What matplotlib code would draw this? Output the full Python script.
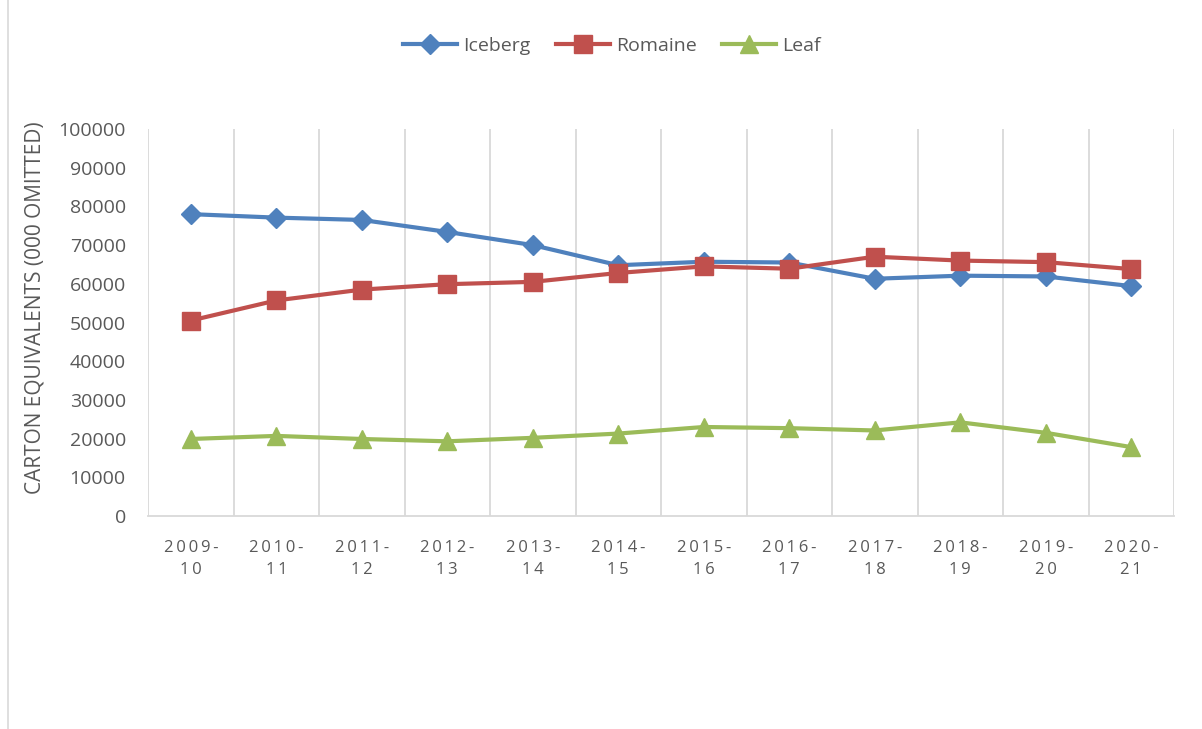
import matplotlib.pyplot as plt
from matplotlib.lines import Line2D
import numpy as np

# seasons on the x axis
seasons = ['2009-\n10', '2010-\n11', '2011-\n12', '2012-\n13', '2013-\n14', '2014-\n15',
           '2015-\n16', '2016-\n17', '2017-\n18', '2018-\n19', '2019-\n20', '2020-\n21']

# carton equivalents, 000 omitted
iceberg = [78000, 77100, 76500, 73400, 70000, 64800, 65700, 65500, 61300, 62100, 61900, 59400]
romaine = [50500, 55700, 58500, 59900, 60500, 62800, 64500, 63900, 67000, 66000, 65600, 63800]
leaf = [19900, 20700, 19900, 19300, 20200, 21300, 23000, 22700, 22100, 24200, 21500, 17800]

yticks = list(range(0, 100001, 10000))

plt.rcParams['font.family'] = ['Open Sans', 'DejaVu Sans']
grey = '#595959'


def spaced(label):
    # the original x labels are letter-spaced
    return '\n'.join('\u2009'.join(line) for line in label.split('\n'))


fig = plt.figure(figsize=(12.02, 7.29), dpi=100)
ax = fig.add_axes([148/1202, 1 - 516/729, (1174 - 148)/1202, (516 - 129)/729])

x = np.arange(len(seasons))
ax.plot(x, iceberg, color='#4F81BD', lw=3, marker='D', ms=10, label='Iceberg')
ax.plot(x, romaine, color='#C0504D', lw=3, marker='s', ms=12.5, label='Romaine')
ax.plot(x, leaf, color='#9BBB59', lw=3, marker='^', ms=13, label='Leaf')

# vertical gridlines between categories, like the original
for b in np.arange(-0.5, len(seasons), 1.0):
    ax.axvline(b, color='#D9D9D9', lw=1.3, zorder=0)

ax.set_xlim(-0.5, len(seasons) - 0.5)
ax.set_ylim(0, 100000)
ax.set_yticks(yticks)
ax.set_yticklabels([str(v) for v in yticks], fontsize=14, color=grey)
ax.set_xticks(x)
ax.set_xticklabels([spaced(s) for s in seasons], fontsize=12, color=grey, linespacing=1.55)
ax.tick_params(length=0)
ax.tick_params(axis='x', pad=17)
ax.tick_params(axis='y', pad=16)

for s in ['top', 'right', 'left']:
    ax.spines[s].set_visible(False)
ax.spines['bottom'].set_color('#D9D9D9')
ax.spines['bottom'].set_linewidth(1.3)

ax.set_ylabel('CARTON EQUIVALENTS (000 OMITTED)', fontsize=15, color=grey)
ax.yaxis.set_label_coords((46 - 148)/1026, (516 - 308)/387)

ax.legend(loc='center', bbox_to_anchor=(0.452, (516 - 46)/387), ncol=3, frameon=False,
          fontsize=14, labelcolor=grey, handlelength=2.8, columnspacing=1.3, handletextpad=0.3)

# chart border on the left
fig.add_artist(Line2D([8/1202, 8/1202], [0, 1], color='#D9D9D9', lw=1.2))

fig.savefig('out.png', dpi=100)
